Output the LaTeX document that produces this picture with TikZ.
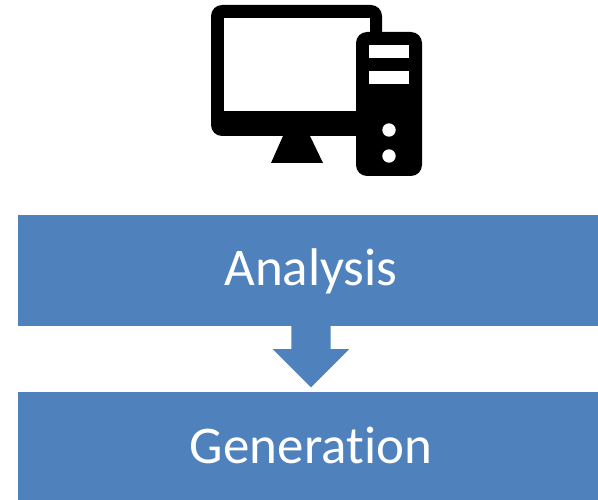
\documentclass[tikz,border=0pt]{standalone}
\usepackage{fontspec}
\setmainfont{Carlito}[Ligatures=NoCommon]
\usetikzlibrary{shapes.arrows,positioning}

\definecolor{boxblue}{HTML}{4F81BD}
\tikzset{
	stage/.style={rectangle,fill=boxblue,text=white,inner sep=0pt,minimum width=586pt,minimum height=111pt,text height=41pt,text depth=10pt,font=\fontsize{53}{60}\selectfont},
	flowarrow/.style={single arrow,fill=boxblue,inner sep=19.5pt,shape border rotate=270,minimum height=63pt,single arrow head extend=18.5pt,single arrow head indent=0pt,single arrow tip angle=90}
}

\begin{document}
\begin{tikzpicture}[x=1pt,y=-1pt]
	\useasboundingbox (0,0) rectangle (598,500);
	% computer icon
	\fill[black,rounded corners=11pt] (211,5) rectangle (382,136);
	\fill[white] (224,18) rectangle (370,111);
	\fill[black] (283,136) -- (310,136) -- (323,163) -- (271,163) -- cycle;
	\fill[black,rounded corners=11pt] (356,32) rectangle (422,176);
	\fill[white] (369,45) rectangle (409,58);
	\fill[white] (369,71) rectangle (409,84);
	\fill[white] (389,130) circle (6.7);
	\fill[white] (389,156) circle (6.7);
	% boxes
	\node[stage] (analysis) at (311,270.5) {Analysis};
	\node[stage] (generation) at (311,447.5) {Generation};
	\node[flowarrow,anchor=tail,yshift=2pt] (link) at (analysis.south) {};
\end{tikzpicture}
\end{document}
